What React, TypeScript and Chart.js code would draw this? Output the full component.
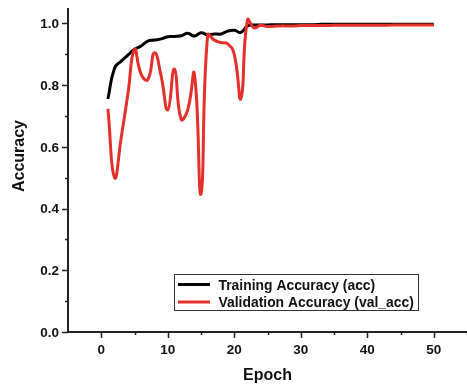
import React, { useEffect, useRef } from "react";
import { Chart, registerables } from "chart.js";

Chart.register(...registerables);

const epochs: number[] = Array.from({ length: 50 }, (_, i) => i + 1);

const trainAcc: number[] = [
  0.755, 0.855, 0.878, 0.897, 0.916, 0.927, 0.943, 0.946, 0.95, 0.957,
  0.958, 0.96, 0.968, 0.959, 0.97, 0.963, 0.966, 0.966, 0.975, 0.978,
  0.971, 0.992, 0.995, 0.995, 0.995, 0.996, 0.996, 0.996, 0.996, 0.996,
  0.996, 0.996, 0.997, 0.997, 0.997, 0.997, 0.997, 0.997, 0.997, 0.997,
  0.997, 0.997, 0.997, 0.997, 0.997, 0.997, 0.997, 0.997, 0.997, 0.997,
];

const valAcc: number[] = [
  0.723, 0.5, 0.63, 0.77, 0.916, 0.835, 0.818, 0.905, 0.83, 0.72,
  0.852, 0.69, 0.72, 0.836, 0.447, 0.962, 0.946, 0.938, 0.934, 0.9,
  0.757, 1.011, 0.986, 0.994, 0.99, 0.991, 0.992, 0.992, 0.992, 0.993,
  0.993, 0.993, 0.993, 0.993, 0.994, 0.994, 0.994, 0.994, 0.994, 0.994,
  0.994, 0.994, 0.994, 0.995, 0.995, 0.995, 0.995, 0.995, 0.995, 0.995,
];

const xTickValues: number[] = [0, 10, 20, 30, 40, 50];
const xMinorValues: number[] = [5, 15, 25, 35, 45, 55];
const yTickValues: number[] = [0, 0.2, 0.4, 0.6, 0.8, 1.0];
const yMinorValues: number[] = [0.1, 0.3, 0.5, 0.7, 0.9];

const seriesLabels: string[] = ["Training Accuracy (acc)", "Validation Accuracy (val_acc)"];
const xTitle = "Epoch";
const yTitle = "Accuracy";

const RED = "#e3302a";
const BLACK = "#000000";
const AXIS = "#222222";
const FONT = "'Liberation Sans', Arial, sans-serif";

const axesPlugin = {
  id: "originAxes",
  afterDraw(chart: any) {
    const ctx = chart.ctx as CanvasRenderingContext2D;
    const xs = chart.scales.x;
    const ys = chart.scales.y;
    const { left, right, top, bottom } = chart.chartArea;
    ctx.save();
    ctx.strokeStyle = AXIS;
    ctx.fillStyle = "#111";
    ctx.lineWidth = 2;
    ctx.beginPath();
    ctx.moveTo(left, top);
    ctx.lineTo(left, bottom);
    ctx.lineTo(right, bottom);
    ctx.stroke();
    ctx.lineWidth = 1.5;
    ctx.beginPath();
    yTickValues.forEach((v) => {
      const p = Math.round(ys.getPixelForValue(v)) + 0.5;
      ctx.moveTo(left - 6, p);
      ctx.lineTo(left, p);
    });
    yMinorValues.forEach((v) => {
      const p = Math.round(ys.getPixelForValue(v)) + 0.5;
      ctx.moveTo(left - 3, p);
      ctx.lineTo(left, p);
    });
    xTickValues.forEach((v) => {
      const p = Math.round(xs.getPixelForValue(v)) + 0.5;
      ctx.moveTo(p, bottom);
      ctx.lineTo(p, bottom + 6);
    });
    xMinorValues.forEach((v) => {
      const p = Math.round(xs.getPixelForValue(v)) + 0.5;
      ctx.moveTo(p, bottom);
      ctx.lineTo(p, bottom + 3);
    });
    ctx.stroke();
    ctx.font = `bold 13.5px ${FONT}`;
    ctx.textAlign = "right";
    ctx.textBaseline = "alphabetic";
    yTickValues.forEach((v) => {
      const p = ys.getPixelForValue(v);
      ctx.fillText(v.toFixed(1), left - 9, p + 4.8);
    });
    ctx.textAlign = "center";
    xTickValues.forEach((v) => {
      const p = xs.getPixelForValue(v);
      ctx.fillText(String(v), p, bottom + 21.5);
    });
    ctx.font = `bold 16px ${FONT}`;
    ctx.fillText(xTitle, (left + right) / 2, 380);
    ctx.save();
    ctx.translate(23.5, 156);
    ctx.rotate(-Math.PI / 2);
    ctx.fillText(yTitle, 0, 0);
    ctx.restore();
    ctx.lineWidth = 1;
    ctx.strokeStyle = "#333";
    ctx.strokeRect(174.5, 274.5, 244, 36);
    const rows = [
      { color: BLACK, y: 284.5, base: 289.5 },
      { color: RED, y: 302, base: 306.8 },
    ];
    ctx.font = `bold 13.9px ${FONT}`;
    ctx.textAlign = "left";
    rows.forEach((r, i) => {
      ctx.strokeStyle = r.color;
      ctx.lineWidth = 3;
      ctx.beginPath();
      ctx.moveTo(178, r.y);
      ctx.lineTo(210, r.y);
      ctx.stroke();
      ctx.fillStyle = "#111";
      ctx.fillText(seriesLabels[i], 218.5, r.base);
    });
    ctx.restore();
  },
};

export default function App() {
  const ref = useRef<HTMLCanvasElement | null>(null);
  useEffect(() => {
    document.body.style.margin = "0";
    const canvas = ref.current;
    if (!canvas) return;
    const chart = new Chart(canvas, {
      type: "line",
      data: {
        datasets: [
          {
            label: seriesLabels[1],
            data: epochs.map((e, i) => ({ x: e, y: valAcc[i] })),
            borderColor: RED,
            borderWidth: 3,
            pointRadius: 0,
            tension: 0.5,
            fill: false,
            order: 0,
          },
          {
            label: seriesLabels[0],
            data: epochs.map((e, i) => ({ x: e, y: trainAcc[i] })),
            borderColor: BLACK,
            borderWidth: 3,
            pointRadius: 0,
            tension: 0.5,
            fill: false,
            order: 1,
          },
        ],
      },
      options: {
        animation: false,
        responsive: false,
        maintainAspectRatio: false,
        layout: { padding: { top: 8, right: 0, left: 0, bottom: 0 } },
        plugins: { legend: { display: false }, tooltip: { enabled: false } },
        scales: {
          x: {
            type: "linear",
            min: -5,
            max: 55,
            grid: { display: false },
            border: { display: false },
            ticks: { display: false },
            afterFit: (s: any) => {
              s.height = 53;
            },
          },
          y: {
            type: "linear",
            min: 0,
            max: 1.05,
            grid: { display: false },
            border: { display: false },
            ticks: { display: false },
            afterFit: (s: any) => {
              s.width = 68;
            },
          },
        },
      },
      plugins: [axesPlugin],
    });
    return () => chart.destroy();
  }, []);
  return (
    <div style={{ position: "absolute", left: 0, top: 0, width: 467, height: 385, background: "#fff" }}>
      <canvas ref={ref} width={467} height={385} style={{ display: "block" }} />
    </div>
  );
}
